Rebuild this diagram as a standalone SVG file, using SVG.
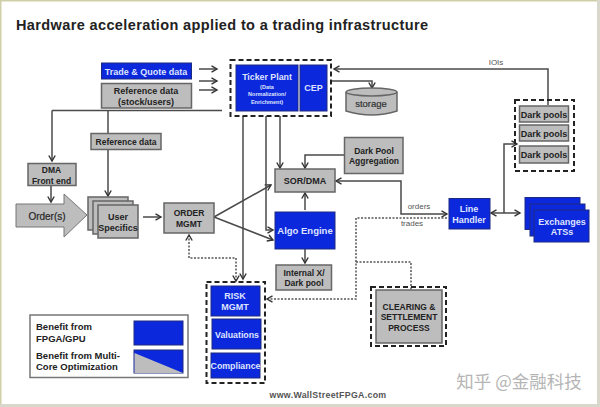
<svg xmlns="http://www.w3.org/2000/svg" width="600" height="407" viewBox="0 0 600 407">
<style>
text{font-family:"Liberation Sans",Arial,sans-serif;font-weight:700;text-anchor:middle;fill:#222}
.b{fill:#0c28dc;stroke:#1c2a80;stroke-width:1}
.g{fill:#bdbdbd;stroke:#666;stroke-width:1.5}
text.w{fill:#dfe4ff}
.d{fill:none;stroke:#222;stroke-width:2;stroke-dasharray:5 3}
.c{fill:none;stroke:#4a4a4a;stroke-width:1.5;marker-end:url(#a)}
.n{fill:none;stroke:#4a4a4a;stroke-width:1.5}
.t{fill:none;stroke:#555;stroke-width:1.5;stroke-dasharray:2 1.5}
.m{marker-end:url(#a)}
.both{marker-start:url(#s);marker-end:url(#a)}
text.l{font-weight:400;fill:#555;font-size:8px}
text.s{text-anchor:start;font-size:9.5px}
</style>
<defs>
<marker id="a" markerWidth="8" markerHeight="8" refX="6.500" refY="4" orient="auto" markerUnits="userSpaceOnUse"><path d="M1 .8L6.500 4L1 7.200" fill="none" stroke="#333" stroke-width="1.400"/></marker>
<marker id="s" markerWidth="8" markerHeight="8" refX="1.500" refY="4" orient="auto" markerUnits="userSpaceOnUse"><path d="M7 .8L1.500 4L7 7.200" fill="none" stroke="#333" stroke-width="1.400"/></marker>
</defs>
<rect width="600" height="407" fill="#fff"/>
<rect width="1.500" height="407" fill="#cfd0a8"/>
<rect width="600" height="1.500" fill="#cfd0a8"/>
<rect x="597" width="3" height="407" fill="#d8d8cc"/>
<rect y="404" width="600" height="3" fill="#d8d8cc"/>
<text x="222" y="30" font-size="14.500" textLength="412" lengthAdjust="spacing">Hardware acceleration applied to a trading infrastructure</text>

<g id="connectors">
<path class="c" d="M199 69H217"/><path class="c" d="M199 81H217"/><path class="c" d="M199 90H217"/>
<path class="n" d="M222 110.500H52"/><path class="c" d="M52 110.500V161"/><path class="c" d="M108 110.500V196"/>
<path class="c" d="M51 186V202"/>
<path class="c" d="M143 217H161"/>
<path class="c" d="M214 217L271 185"/><path class="c" d="M214 217L273 240"/>
<path class="c" d="M243 116V279"/>
<path class="c" d="M266 116V230H273"/>
<path class="c" d="M280 116V168"/>
<path class="c" d="M548 105V69H334"/>
<path class="c" d="M331 81H372V88"/>
<path class="c" d="M344 155H305V168"/>
<path class="c" d="M305 210V193"/>
<path class="c" d="M305 249V263"/>
<path class="n both" d="M447 214H401V181H336"/>
<path class="t both" d="M189 235V258H236V281"/>
<path class="t m" d="M447 218H356V299H267"/>
<path class="t m" d="M356 262H411V296"/>
<path class="n both" d="M491 213H520"/>
<path class="c" d="M504 213V144H517"/>
</g>

<g id="trade-quote"><rect class="b" x="101.500" y="63" width="90" height="16"/><text class="w" x="146" y="75" font-size="9">Trade &amp; Quote data</text></g>
<g id="reference-stock"><rect class="g" x="101.500" y="83.500" width="90" height="24.500"/><text x="146" y="94" font-size="9">Reference data</text><text x="146" y="104.500" font-size="9">(stock/users)</text></g>
<g id="ticker-group"><rect class="d" x="230.500" y="60" width="100.500" height="56"/>
<rect class="b" x="236" y="65" width="62" height="46"/><text class="w" x="267" y="80" font-size="8.800">Ticker Plant</text><text class="w" x="267" y="88.500" font-size="5.500">(Data</text><text class="w" x="267" y="96" font-size="5.500">Normalization/</text><text class="w" x="267" y="104" font-size="5.500">Enrichment)</text>
<rect class="b" x="300" y="65" width="27" height="46"/><text class="w" x="313.500" y="91" font-size="9">CEP</text></g>
<g id="storage"><path class="g" d="M346 92V111Q372 119 397 111V92"/><ellipse class="g" cx="371.500" cy="92" rx="25.500" ry="4"/><text x="371" y="107" font-size="9.500" style="font-weight:400;fill:#333;stroke:#333;stroke-width:.2">storage</text></g>
<g id="reference-data"><rect class="g" x="91" y="133.500" width="70" height="16"/><text x="126" y="145" font-size="8.500">Reference data</text></g>
<g id="dma"><rect class="g" x="28" y="163.500" width="48" height="22"/><text x="51.500" y="173" font-size="8.500">DMA</text><text x="51.500" y="184" font-size="8.500">Front end</text></g>
<g id="orders"><path d="M16 204H64V194L87 215L64 237V227H16Z" fill="#bdbdbd" stroke="#777"/><text x="47" y="220" font-size="10" style="font-weight:400;stroke:#333;stroke-width:.2">Order(s)</text></g>
<g id="user-specifics"><rect class="g" x="88" y="197" width="40" height="33"/><rect class="g" x="93" y="201" width="40" height="33"/><rect class="g" x="98" y="205" width="40" height="33"/><text x="118" y="220" font-size="9">User</text><text x="118" y="231" font-size="9">Specifics</text></g>
<g id="order-mgmt"><rect class="g" x="164" y="203" width="50" height="30"/><text x="189" y="216" font-size="8.500">ORDER</text><text x="189" y="227" font-size="8.500">MGMT</text></g>
<g id="sor"><rect class="g" x="275" y="169" width="60" height="23"/><text x="305" y="184" font-size="9">SOR/DMA</text></g>
<g id="dark-agg"><rect class="g" x="344.500" y="137.500" width="58.500" height="36"/><text x="374" y="154" font-size="8.500">Dark Pool</text><text x="374" y="164" font-size="8.500">Aggregation</text></g>
<g id="algo"><rect class="b" x="275" y="212" width="60" height="37"/><text class="w" x="305" y="234" font-size="9.500">Algo Engine</text></g>
<g id="internal"><rect class="g" x="276" y="265" width="55.500" height="25"/><text x="304" y="276" font-size="8.500">Internal X/</text><text x="304" y="286" font-size="8.500">Dark pool</text></g>
<g id="line-handler"><rect class="b" x="449" y="198.500" width="41" height="30.500"/><text class="w" x="469" y="212" font-size="9">Line</text><text class="w" x="469" y="223" font-size="9">Handler</text></g>
<g id="exchanges"><rect class="b" x="525" y="197.500" width="55" height="32"/><rect class="b" x="530" y="204" width="55" height="32"/><rect class="b" x="534" y="210" width="55" height="32"/><text class="w" x="562" y="225" font-size="9">Exchanges</text><text class="w" x="562" y="235" font-size="9">ATSs</text></g>
<g id="dark-pools"><rect class="d" x="515" y="100" width="59" height="71"/>
<rect class="g" x="519.500" y="106" width="49" height="16"/><text x="544" y="118" font-size="9">Dark pools</text>
<rect class="g" x="519.500" y="125" width="49" height="16"/><text x="544" y="137" font-size="9">Dark pools</text>
<rect class="g" x="519.500" y="146" width="49" height="17"/><text x="544" y="158" font-size="9">Dark pools</text></g>
<g id="risk-group"><rect class="d" x="206.500" y="282" width="58.500" height="101"/>
<rect class="b" x="211" y="286" width="49" height="30"/><text class="w" x="235" y="299" font-size="9">RISK</text><text class="w" x="235" y="310" font-size="9">MGMT</text>
<rect class="b" x="212" y="319" width="49" height="30"/><text class="w" x="237" y="338" font-size="8.800">Valuations</text>
<rect class="b" x="211" y="353" width="49" height="25"/><text class="w" x="235.500" y="369" font-size="8.800">Compliance</text></g>
<g id="clearing"><rect class="d" x="371" y="287" width="75" height="59"/><rect class="g" x="376" y="290" width="66" height="53"/><text x="409" y="310" font-size="8.500">CLEARING &amp;</text><text x="409" y="320" font-size="8.500">SETTLEMENT</text><text x="409" y="331" font-size="8.500">PROCESS</text></g>
<g id="legend"><rect x="30" y="315" width="158" height="62.500" fill="#fff" stroke="#777" stroke-width="1.500"/>
<text class="s" x="36" y="330">Benefit from</text><text class="s" x="36" y="342">FPGA/GPU</text>
<text class="s" x="36" y="359">Benefit from Multi-</text><text class="s" x="36" y="370">Core Optimization</text>
<rect class="b" x="134" y="321" width="49" height="24"/>
<rect class="b" x="134" y="350" width="49" height="23"/><path d="M134.500 353L183 373H134.500Z" fill="#bdbdbd"/></g>
<text x="328" y="398" font-size="8.800" style="letter-spacing:.3px;fill:#555">www.WallStreetFPGA.com</text>
<text class="l" x="496" y="65">IOIs</text><text class="l" x="419" y="209">orders</text><text class="l" x="412" y="226">trades</text>
<text x="519" y="388" font-size="17.500" style="font-weight:400;fill:#b5b5b5;font-family:'Noto Sans CJK SC',sans-serif">知乎 @金融科技</text>
</svg>
